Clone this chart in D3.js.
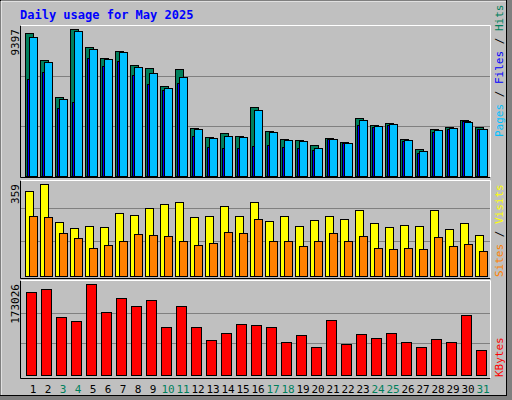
<!DOCTYPE html><html><head><meta charset="utf-8">
<script src="https://cdn.jsdelivr.net/npm/d3@7"></script>
<style>body{margin:0;background:#fff}</style></head><body>
<script>
const days=d3.range(1,32);
const weekend=[3,4,10,11,17,18,24,25,31];
const hits=[9123,7397,5031,9378,8228,7525,7972,7077,6885,5735,6821,3069,2493,2730,2557,4392,2858,2346,2282,1963,2429,2154,3689,3241,3369,2346,1707,2986,3113,3561,3113];
const files=[8867,7269,4903,9251,8100,7461,7908,6949,6566,5607,6310,2986,2410,2538,2474,4200,2794,2282,2218,1771,2346,2091,3561,3177,3305,2282,1579,2922,3049,3433,2986];
const pages=[6182,6630,4328,4712,7525,7013,7333,6438,5862,5479,5926,2538,1835,1771,1771,1899,1963,1835,1771,1643,2346,2091,3241,3113,3241,2218,1451,2794,2986,3497,2986];
const visits=[333,359,211,187,195,191,246,238,265,281,289,230,234,273,234,289,215,234,195,219,234,222,258,207,191,199,195,258,183,207,160];
const sites=[234,230,168,148,109,121,137,164,160,156,137,121,129,172,168,222,137,137,117,137,168,137,156,109,105,109,105,152,117,125,98];
const kbytes=[157816,163520,110281,102676,173026,119788,146408,131197,142605,91267,131197,91267,66549,79859,96971,95070,91267,62746,76056,53239,104577,58943,77957,70352,79859,62746,53239,68450,62746,114084,47535];
const maxHits=9397,maxVisits=359,maxKB=173026;

const svg=d3.select("body").append("svg").attr("width",512).attr("height",400);
svg.append("rect").attr("width",512).attr("height",400).attr("fill","#808080");
svg.append("rect").attr("x",0.5).attr("y",0.5).attr("width",506).attr("height",395).attr("fill","#c0c0c0").attr("stroke","#000");
svg.append("line").attr("x1",1).attr("y1",1).attr("x2",506).attr("y2",1).attr("stroke","#fff");
svg.append("line").attr("x1",1).attr("y1",1).attr("x2",1).attr("y2",395).attr("stroke","#fff");
svg.append("text").attr("x",20).attr("y",19).text("Daily usage for May 2025")
 .attr("font-family","DejaVu Sans Mono").attr("font-weight","bold").attr("font-size",12).attr("fill","#0000ff");

const x=d3.scaleLinear().domain([1,31]).range([25,475]);
function panel(y0,y1){
  svg.append("rect").attr("x",20).attr("y",y0).attr("width",470).attr("height",y1-y0).attr("fill","#c0c0c0");
  svg.append("path").attr("d",`M20.5,${y1+.5}V${y0+.5}`).attr("stroke","#000");
  svg.append("path").attr("d",`M20.5,${y1+.5}H490.5`).attr("stroke","#000");
  svg.append("path").attr("d",`M20.5,${y0+.5}H490.5V${y1+.5}`).attr("stroke","#fff").attr("fill","none");
}
function grid(y, ticks){ticks.forEach(t=>svg.append("line").attr("x1",21).attr("x2",490).attr("y1",Math.round(y(t))+.5).attr("y2",Math.round(y(t))+.5).attr("stroke","#808080"));}
function bars(data,y,dx,w,color){
  svg.append("g").selectAll("rect").data(data).join("rect")
   .attr("x",(d,i)=>x(i+1)+dx+.5).attr("y",d=>Math.round(y(d))+.5).attr("width",w)
   .attr("height",d=>Math.max(0,y(0)-Math.round(y(d)))).attr("fill",color).attr("stroke","#000");
}
function vlabel(txt,xx,yy){svg.append("text").attr("transform",`translate(${xx},${yy}) rotate(-90)`).attr("text-anchor","end")
 .attr("font-family","DejaVu Sans Mono").attr("font-size",11).text(txt);}
function rlabel(parts,xx,ybot){const t=svg.append("text").attr("transform",`translate(${xx},${ybot}) rotate(-90)`)
 .attr("font-family","DejaVu Sans Mono").attr("font-size",11);
 parts.forEach(p=>t.append("tspan").attr("fill",p[1]).text(p[0]));}

// top
panel(25,177);
const yH=d3.scaleLinear().domain([0,maxHits]).range([176,29]);
grid(yH,[maxHits*0.34,maxHits*0.68]);
bars(hits,yH,0,8,"#00805c");
bars(pages,yH,2,8,"#0000ff");
bars(files,yH,4,8,"#00c0ff");
vlabel(maxHits,19,29);
rlabel([["Pages","#00c0ff"],[" / ","#000"],["Files","#0000ff"],[" / ","#000"],["Hits","#00805c"]],503,137);

// middle
panel(180,278);
const yV=d3.scaleLinear().domain([0,maxVisits]).range([276,184]);
grid(yV,[maxVisits*0.38,maxVisits*0.74]);
bars(visits,yV,0,8,"#ffff00");
bars(sites,yV,4,8,"#ff8000");
vlabel(maxVisits,19,184);
rlabel([["Sites","#ff8000"],[" / ","#000"],["Visits","#ffff00"]],503,277);

// bottom
panel(280,378);
const yK=d3.scaleLinear().domain([0,maxKB]).range([375,284]);
grid(yK,[maxKB*0.35,maxKB*0.68]);
bars(kbytes,yK,1,10,"#ff0000");
vlabel(maxKB,19,284);
rlabel([["KBytes","#ff0000"]],503,377);

svg.append("g").selectAll("text").data(days).join("text")
 .attr("x",d=>x(d)+8).attr("y",393).attr("text-anchor","middle")
 .attr("font-family","DejaVu Sans Mono").attr("font-size",11)
 .attr("fill",d=>weekend.includes(d)?"#00805c":"#000").text(d=>d);
</script></body></html>
